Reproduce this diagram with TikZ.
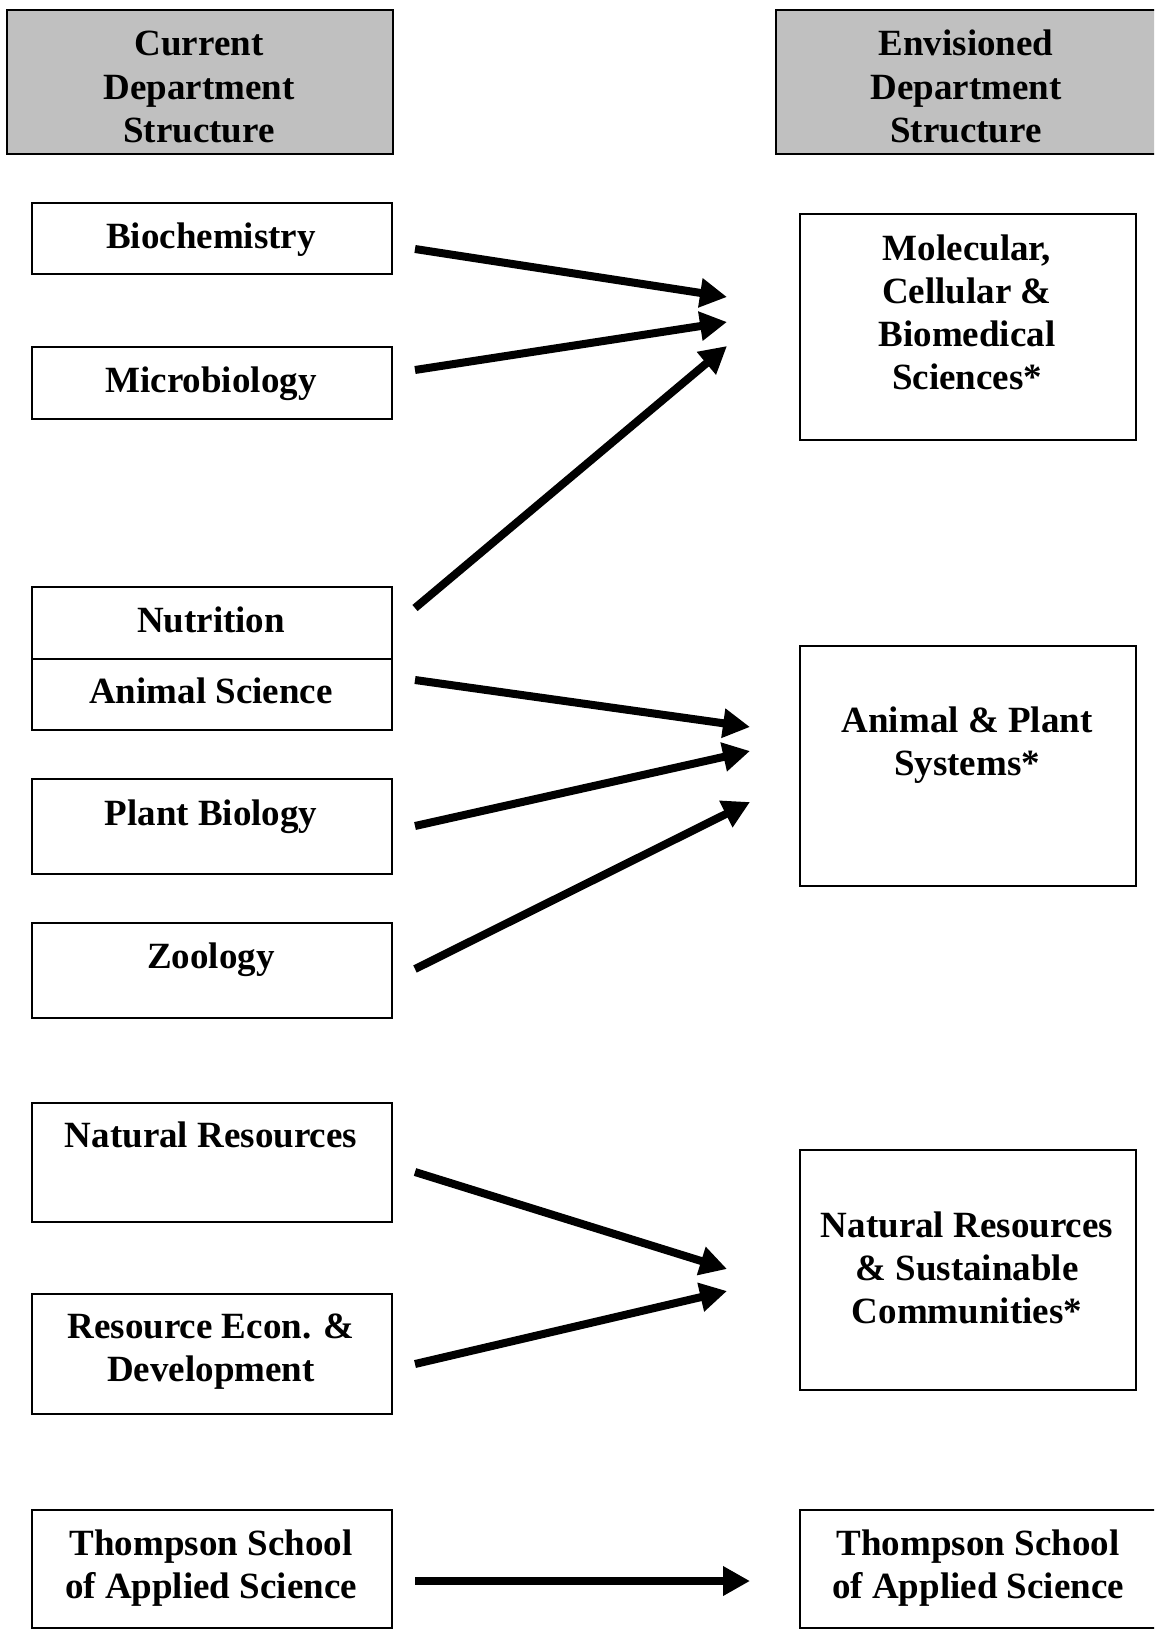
\documentclass[tikz,border=0pt]{standalone}
\usepackage{fontspec}
\setmainfont{Liberation Serif}
\usetikzlibrary{arrows.meta}
\definecolor{hdrgray}{RGB}{192,192,192}
\newcommand{\mlines}[1]{\begin{tabular}[t]{@{}c@{}}#1\end{tabular}}
\begin{document}
\begin{tikzpicture}[x=1pt,y=-1pt,
  box/.style={draw=black, line width=2pt, rectangle, inner sep=0pt, anchor=north west},
  hdr/.style={box, fill=hdrgray},
  lbl/.style={inner sep=0pt, anchor=base, font=\fontsize{37}{43.2}\selectfont\bfseries},
  arr/.style={line width=8pt, -{Triangle[length=27pt,width=28pt]}}]
\useasboundingbox (0,0) rectangle (1154,1629);
\clip (0,0) rectangle (1154,1629);

% header boxes
\node[hdr, minimum width=386pt, minimum height=144pt] (hl) at (6,9) {};
\node[hdr, minimum width=382pt, minimum height=144pt] (hr) at (775,9) {};
\node[lbl] (hlt) at (199,56) {\mlines{Current\\Department\\Structure}};
\node[lbl] (hrt) at (966,56) {\mlines{Envisioned\\Department\\Structure}};

% left boxes
\node[box, minimum width=360pt, minimum height=71pt] (bio) at (31,202) {};
\node[box, minimum width=360pt, minimum height=72pt] (mic) at (31,346) {};
\node[box, minimum width=360pt, minimum height=72pt] (nut) at (31,586) {};
\node[box, minimum width=360pt, minimum height=71pt] (ani) at (31,658) {};
\node[box, minimum width=360pt, minimum height=95pt] (pla) at (31,778) {};
\node[box, minimum width=360pt, minimum height=95pt] (zoo) at (31,922) {};
\node[box, minimum width=360pt, minimum height=119pt] (nat) at (31,1102) {};
\node[box, minimum width=360pt, minimum height=120pt] (res) at (31,1293) {};
\node[box, minimum width=360pt, minimum height=118pt] (thl) at (31,1509) {};

\node[lbl] (biot) at (211,249) {Biochemistry};
\node[lbl] (mict) at (211,392) {Microbiology};
\node[lbl] (nutt) at (211,632) {Nutrition};
\node[lbl] (anit) at (211,703) {Animal Science};
\node[lbl] (plat) at (211,825) {Plant Biology};
\node[lbl] (zoot) at (211,968) {Zoology};
\node[lbl] (natt) at (211,1147) {Natural Resources};
\node[lbl] (rest) at (211,1338) {\mlines{Resource Econ. \&\\Development}};
\node[lbl] (thlt) at (211,1555) {\mlines{Thompson School\\of Applied Science}};

% right boxes
\node[box, minimum width=336pt, minimum height=226pt] (mcb) at (799,213) {};
\node[box, minimum width=336pt, minimum height=240pt] (aps) at (799,645) {};
\node[box, minimum width=336pt, minimum height=240pt] (nrs) at (799,1149) {};
\node[box, minimum width=358pt, minimum height=118pt] (thr) at (799,1509) {};

\node[lbl] (mcbt) at (967,260) {\mlines{Molecular,\\Cellular \&\\Biomedical\\Sciences*}};
\node[lbl] (apst) at (967,732) {\mlines{Animal \& Plant\\Systems*}};
\node[lbl] (nrst) at (967,1237) {\mlines{Natural Resources\\\& Sustainable\\Communities*}};
\node[lbl] (thrt) at (978,1555) {\mlines{Thompson School\\of Applied Science}};

% arrow end points
\coordinate (s1) at (415,249);  \coordinate (e1) at (727,297);
\coordinate (s2) at (415,370);  \coordinate (e2) at (727,322);
\coordinate (s3) at (415,608);  \coordinate (e3) at (727,346);
\coordinate (s4) at (415,680);  \coordinate (e4) at (750,727);
\coordinate (s5) at (415,826);  \coordinate (e5) at (750,751);
\coordinate (s6) at (415,969);  \coordinate (e6) at (750,802);
\coordinate (s7) at (415,1172); \coordinate (e7) at (727,1269);
\coordinate (s8) at (415,1364); \coordinate (e8) at (727,1291);
\coordinate (s9) at (415,1581); \coordinate (e9) at (750,1581);

\draw[arr] (s1) -- (e1);
\draw[arr] (s2) -- (e2);
\draw[arr] (s3) -- (e3);
\draw[arr] (s4) -- (e4);
\draw[arr] (s5) -- (e5);
\draw[arr] (s6) -- (e6);
\draw[arr] (s7) -- (e7);
\draw[arr] (s8) -- (e8);
\draw[arr] (s9) -- (e9);
\end{tikzpicture}
\end{document}
